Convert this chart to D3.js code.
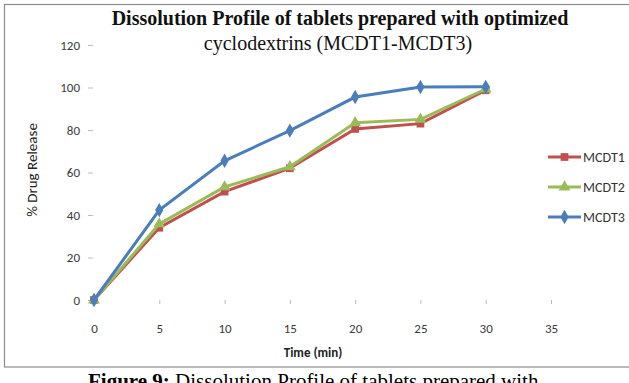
<!DOCTYPE html>
<html>
<head>
<meta charset="utf-8">
<script src="https://cdn.jsdelivr.net/npm/d3@7"></script>
<style>
  html, body { margin: 0; padding: 0; background: #fff; overflow: hidden; }
  svg { display: block; }
</style>
</head>
<body>
<svg id="chart" width="629" height="383"></svg>
<script>
// Sampling times (min)
const times = [0, 5, 10, 15, 20, 25, 30];
// Cumulative % drug release for each formulation
const mcdt1 = [0, 34, 51, 62, 80.5, 83, 98.7];
const mcdt2 = [0, 35.8, 53.2, 62.7, 83.4, 85, 99.3];
const mcdt3 = [0, 42.3, 65.5, 79.7, 95.5, 100.2, 100.3];
const seriesNames = ["MCDT1", "MCDT2", "MCDT3"];
const xTicks = [0, 5, 10, 15, 20, 25, 30, 35];
const yTicks = [0, 20, 40, 60, 80, 100, 120];

const colors = { MCDT1: "#c0504d", MCDT2: "#9bbb59", MCDT3: "#4a7ebb" };
const markerType = { MCDT1: d3.symbolSquare, MCDT2: d3.symbolTriangle, MCDT3: d3.symbolDiamond };
const markerSize = { MCDT1: 60, MCDT2: 60, MCDT3: 60 };

const series = [
  { name: "MCDT1", values: mcdt1 },
  { name: "MCDT2", values: mcdt2 },
  { name: "MCDT3", values: mcdt3 }
];

const svg = d3.select("#chart");

// chart frame
svg.append("rect")
  .attr("x", 4.5).attr("y", 4.5)
  .attr("width", 660).attr("height", 362.5)
  .attr("fill", "#fff").attr("stroke", "#8c8c8c").attr("stroke-width", 1.2);

const x = d3.scaleLinear().domain([0, 35]).range([94, 551]);
const y = d3.scaleLinear().domain([0, 120]).range([300, 45]);

const tickFont = "Carlito, 'Liberation Sans', Arial, sans-serif";

// y axis: ticks and labels only
const yAxis = d3.axisLeft(y).tickValues(yTicks).tickSize(5).tickPadding(8);
const gy = svg.append("g").attr("transform", "translate(93,0)").call(yAxis);
gy.select(".domain").remove();
gy.selectAll(".tick line").attr("stroke", "#bbb");
gy.selectAll(".tick text").attr("font-family", tickFont).attr("font-size", 13).attr("fill", "#3a3a3a");

// x axis: ticks and labels only
const xAxis = d3.axisBottom(x).tickValues(xTicks).tickSize(4).tickPadding(20);
const gx = svg.append("g").attr("transform", "translate(0,300)").call(xAxis);
gx.select(".domain").remove();
gx.selectAll(".tick line").attr("stroke", "#bbb");
gx.selectAll(".tick text").attr("font-family", tickFont).attr("font-size", 13).attr("fill", "#3a3a3a");

// lines and markers
const line = d3.line().x((d, i) => x(times[i])).y(d => y(d));
series.forEach(s => {
  svg.append("path")
    .datum(s.values)
    .attr("d", line)
    .attr("fill", "none")
    .attr("stroke", colors[s.name])
    .attr("stroke-width", 3);
  svg.append("g").selectAll("path")
    .data(s.values)
    .join("path")
    .attr("transform", (d, i) => `translate(${x(times[i])},${y(d)})`)
    .attr("d", d3.symbol().type(markerType[s.name]).size(markerSize[s.name]))
    .attr("fill", colors[s.name]);
});

// title
const title = svg.append("text")
  .attr("text-anchor", "middle")
  .attr("font-family", "'Liberation Serif', 'Times New Roman', serif")
  .attr("font-size", 20)
  .attr("fill", "#111");
title.append("tspan").attr("x", 340).attr("y", 25).attr("font-weight", "bold")
  .text("Dissolution Profile of tablets prepared with optimized");
title.append("tspan").attr("x", 338).attr("y", 50)
  .text("cyclodextrins (MCDT1-MCDT3)");

// axis titles
svg.append("text")
  .attr("transform", "translate(37,170) rotate(-90)")
  .attr("text-anchor", "middle")
  .attr("font-family", tickFont).attr("font-size", 15)
  .attr("fill", "#222")
  .text("% Drug Release");
svg.append("text")
  .attr("x", 313).attr("y", 357)
  .attr("text-anchor", "middle")
  .attr("font-family", tickFont).attr("font-size", 13).attr("font-weight", "bold")
  .attr("fill", "#222")
  .text("Time (min)");

// legend
const legendY = [157, 187, 217];
series.forEach((s, i) => {
  const g = svg.append("g").attr("transform", `translate(548,${legendY[i]})`);
  g.append("line").attr("x1", 0).attr("x2", 33).attr("y1", 0).attr("y2", 0)
    .attr("stroke", colors[s.name]).attr("stroke-width", 3);
  g.append("path").attr("transform", "translate(16.5,0)")
    .attr("d", d3.symbol().type(markerType[s.name]).size(markerSize[s.name]))
    .attr("fill", colors[s.name]);
  g.append("text").attr("x", 35).attr("y", 5)
    .attr("font-family", tickFont).attr("font-size", 14).attr("fill", "#333")
    .text(seriesNames[i]);
});

// figure caption
const cap = svg.append("text")
  .attr("x", 88).attr("y", 388)
  .attr("font-family", "'Liberation Serif', 'Times New Roman', serif")
  .attr("font-size", 21).attr("fill", "#000");
cap.append("tspan").attr("font-weight", "bold").text("Figure 9:");
cap.append("tspan").text(" Dissolution Profile of tablets prepared with");
</script>
</body>
</html>
